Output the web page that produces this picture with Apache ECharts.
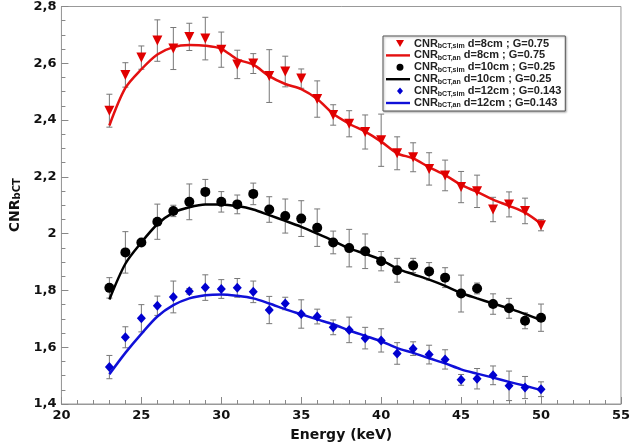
<!DOCTYPE html>
<html>
<head>
<meta charset="utf-8">
<script src="https://cdn.jsdelivr.net/npm/echarts@6/dist/echarts.min.js"></script>
<style>
  html, body { margin: 0; padding: 0; background: #fff; }
  #chart { width: 633px; height: 447px; }
</style>
</head>
<body>
<div id="chart"></div>
<script>
// energies (keV)
var energy = [23, 24, 25, 26, 27, 28, 29, 30, 31, 32, 33, 34, 35, 36, 37, 38, 39, 40, 41, 42, 43, 44, 45, 46, 47, 48, 49, 50];

// d=8cm ; G=0.75
var sim8 = [2.433, 2.559, 2.620, 2.680, 2.652, 2.693, 2.687, 2.648, 2.596, 2.599, 2.555, 2.571, 2.546, 2.474,
            2.418, 2.387, 2.358, 2.329, 2.283, 2.269, 2.228, 2.205, 2.164, 2.149, 2.085, 2.103, 2.080, 2.030];
var err8 = [0.058, 0.043, 0.041, 0.073, 0.074, 0.048, 0.075, 0.062, 0.050, 0.035, 0.093, 0.054, 0.034, 0.064,
            0.036, 0.046, 0.060, 0.092, 0.058, 0.051, 0.057, 0.054, 0.055, 0.057, 0.043, 0.044, 0.045, 0.020];
var an8  = [2.381, 2.513, 2.579, 2.631, 2.657, 2.664, 2.662, 2.651, 2.614, 2.595, 2.555, 2.527, 2.509, 2.474,
            2.422, 2.387, 2.359, 2.324, 2.283, 2.265, 2.234, 2.206, 2.172, 2.147, 2.120, 2.098, 2.074, 2.035];

// d=10cm ; G=0.25
var sim10 = [1.809, 1.934, 1.969, 2.042, 2.080, 2.112, 2.147, 2.112, 2.103, 2.140, 2.085, 2.062, 2.053, 2.021,
             1.969, 1.949, 1.938, 1.903, 1.871, 1.888, 1.867, 1.845, 1.789, 1.807, 1.752, 1.737, 1.693, 1.704];
var err10 = [0.036, 0.073, 0.010, 0.062, 0.020, 0.063, 0.044, 0.036, 0.033, 0.038, 0.045, 0.060, 0.063, 0.066,
             0.040, 0.066, 0.061, 0.034, 0.042, 0.025, 0.031, 0.035, 0.065, 0.019, 0.036, 0.035, 0.028, 0.048];
var an10  = [1.768, 1.894, 1.969, 2.033, 2.074, 2.093, 2.103, 2.103, 2.097, 2.085, 2.065, 2.045, 2.024, 2.000,
             1.975, 1.948, 1.929, 1.908, 1.877, 1.857, 1.838, 1.816, 1.791, 1.772, 1.754, 1.737, 1.717, 1.696];

// d=12cm ; G=0.143
var sim12 = [1.530, 1.635, 1.702, 1.746, 1.777, 1.797, 1.810, 1.805, 1.809, 1.795, 1.731, 1.754, 1.717, 1.708,
             1.670, 1.661, 1.632, 1.624, 1.578, 1.595, 1.574, 1.557, 1.485, 1.489, 1.501, 1.464, 1.458, 1.452];
var err12 = [0.041, 0.037, 0.048, 0.034, 0.056, 0.010, 0.045, 0.033, 0.033, 0.038, 0.048, 0.022, 0.050, 0.026,
             0.026, 0.045, 0.038, 0.041, 0.038, 0.024, 0.033, 0.034, 0.019, 0.036, 0.033, 0.052, 0.039, 0.026];
var an12  = [1.505, 1.580, 1.647, 1.708, 1.748, 1.772, 1.783, 1.786, 1.781, 1.772, 1.754, 1.734, 1.716, 1.698,
             1.681, 1.659, 1.640, 1.621, 1.597, 1.580, 1.561, 1.543, 1.522, 1.507, 1.493, 1.478, 1.464, 1.449];

var legendNames = [
    '{a|CNR}{s|bCT,sim}{a| d=8cm ; G=0.75}',
    '{a|CNR}{s|bCT,an}{a| d=8cm ; G=0.75}',
    '{a|CNR}{s|bCT,sim}{a| d=10cm ; G=0.25}',
    '{a|CNR}{s|bCT,an}{a| d=10cm ; G=0.25}',
    '{a|CNR}{s|bCT,sim}{a| d=12cm ; G=0.143}',
    '{a|CNR}{s|bCT,an}{a| d=12cm ; G=0.143}'
];

// legend icons, drawn in a 26x10 box (the first two moves fix the box)
var iconLine = 'path://M0,0M26,10M1,3.8L25,3.8L25,6.2L1,6.2Z';
var iconTri = 'path://M0,0M26,10M11,1.5L19,1.5L15,8.5Z';
var iconDot = 'path://M0,0M26,10M15,1.5A3.5,3.5,0,1,1,14.99,1.5Z';
var iconDia = 'path://M0,0M26,10M15,1.5L18,5L15,8.5L12,5Z';

function pairs(ys) {
    var out = [];
    for (var i = 0; i < energy.length; i++) out.push([energy[i], ys[i]]);
    return out;
}

function triples(ys, es) {
    var out = [];
    for (var i = 0; i < energy.length; i++) out.push([energy[i], ys[i], es[i]]);
    return out;
}

function errorBars(ys, es) {
    return {
        type: 'custom',
        data: triples(ys, es),
        encode: { x: 0, y: 1 },
        z: 1,
        silent: true,
        renderItem: function (params, api) {
            var x = api.value(0), y = api.value(1), e = api.value(2);
            var hi = api.coord([x, y + e]);
            var lo = api.coord([x, y - e]);
            var w = 3;
            var st = { stroke: '#777', lineWidth: 1 };
            return {
                type: 'group',
                children: [
                    { type: 'line', shape: { x1: hi[0], y1: hi[1], x2: lo[0], y2: lo[1] }, style: st },
                    { type: 'line', shape: { x1: hi[0] - w, y1: hi[1], x2: hi[0] + w, y2: hi[1] }, style: st },
                    { type: 'line', shape: { x1: lo[0] - w, y1: lo[1], x2: lo[0] + w, y2: lo[1] }, style: st }
                ]
            };
        }
    };
}

var comma = function (v) { return String(Math.round(v * 10) / 10).replace('.', ','); };
var labelStyle = { color: '#111', fontWeight: 'bold', fontSize: 13, fontFamily: 'DejaVu Sans' };

var chart = echarts.init(document.getElementById('chart'));
chart.setOption({
    animation: false,
    backgroundColor: '#fff',
    grid: { left: 46, right: 6, top: 6, bottom: 39, show: true, borderColor: '#999', borderWidth: 1 },
    legend: {
        data: [
            { name: legendNames[0], icon: iconTri },
            { name: legendNames[1], icon: iconLine },
            { name: legendNames[2], icon: iconDot },
            { name: legendNames[3], icon: iconLine },
            { name: legendNames[4], icon: iconDia },
            { name: legendNames[5], icon: iconLine }
        ],
        orient: 'vertical',
        left: 383,
        top: 36,
        itemGap: 0.4,
        itemWidth: 26,
        itemHeight: 10,
        padding: [2, 4, 2, 2],
        borderColor: '#555',
        borderWidth: 1,
        backgroundColor: '#fff',
        shadowColor: 'rgba(0,0,0,0.3)',
        shadowBlur: 2,
        shadowOffsetX: 1,
        shadowOffsetY: 1,
        textStyle: {
            padding: [0, 0, 0, -2],
            rich: {
                a: { fontFamily: 'Liberation Sans', fontWeight: 'bold', fontSize: 11, lineHeight: 12, color: '#222' },
                s: { fontFamily: 'Liberation Sans', fontWeight: 'bold', fontSize: 7, lineHeight: 12, color: '#222', verticalAlign: 'bottom', padding: [3, 0, 0, 0] }
            }
        }
    },
    xAxis: {
        type: 'value',
        min: 20, max: 55, interval: 5,
        name: 'Energy (keV)',
        nameLocation: 'middle',
        nameGap: 24,
        nameTextStyle: { color: '#111', fontWeight: 'bold', fontSize: 14, fontFamily: 'DejaVu Sans' },
        axisLine: { show: true, lineStyle: { color: '#999' } },
        axisTick: { inside: true, length: 7, lineStyle: { color: '#888' } },
        minorTick: { show: true, splitNumber: 5, length: 4, lineStyle: { color: '#888' } },
        splitLine: { show: false },
        axisLabel: Object.assign({ margin: 5 }, labelStyle)
    },
    yAxis: {
        type: 'value',
        min: 1.4, max: 2.8, interval: 0.2,
        name: '{a|CNR}{s|bCT}',
        nameLocation: 'middle',
        nameGap: 35,
        nameTextStyle: {
            rich: {
                a: { color: '#111', fontWeight: 'bold', fontSize: 14, fontFamily: 'DejaVu Sans' },
                s: { color: '#111', fontWeight: 'bold', fontSize: 10, fontFamily: 'DejaVu Sans', verticalAlign: 'bottom', padding: [5, 0, 0, 0] }
            }
        },
        axisLine: { show: true, lineStyle: { color: '#999' } },
        axisTick: { inside: true, length: 7, lineStyle: { color: '#888' } },
        minorTick: { show: true, splitNumber: 4, length: 4, lineStyle: { color: '#888' } },
        splitLine: { show: false },
        axisLabel: Object.assign({ margin: 5, formatter: comma }, labelStyle)
    },
    series: [
        errorBars(sim8, err8),
        errorBars(sim10, err10),
        errorBars(sim12, err12),
        { name: legendNames[1], type: 'line', data: pairs(an8), symbol: 'none', smooth: 0.3, z: 2,
          lineStyle: { color: '#e41010', width: 2.5 }, itemStyle: { color: '#e41010' } },
        { name: legendNames[3], type: 'line', data: pairs(an10), symbol: 'none', smooth: 0.3, z: 2,
          lineStyle: { color: '#000', width: 2.5 }, itemStyle: { color: '#000' } },
        { name: legendNames[5], type: 'line', data: pairs(an12), symbol: 'none', smooth: 0.3, z: 2,
          lineStyle: { color: '#1010d8', width: 2.5 }, itemStyle: { color: '#1010d8' } },
        { name: legendNames[0], type: 'scatter', data: pairs(sim8), symbol: 'triangle', symbolRotate: 180,
          symbolSize: [10, 10], z: 3, itemStyle: { color: '#e00000', opacity: 1 } },
        { name: legendNames[2], type: 'scatter', data: pairs(sim10), symbol: 'circle',
          symbolSize: 10, z: 3, itemStyle: { color: '#000', opacity: 1 } },
        { name: legendNames[4], type: 'scatter', data: pairs(sim12), symbol: 'diamond',
          symbolSize: [9, 10], z: 3, itemStyle: { color: '#0000d0', opacity: 1 } }
    ]
});
</script>
</body>
</html>
